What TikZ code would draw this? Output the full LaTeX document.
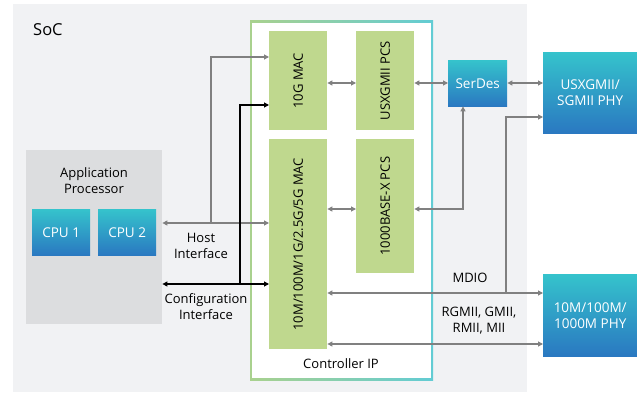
\documentclass[tikz,border=0pt]{standalone}
\usepackage{fontspec}
\setmainfont{Open Sans}
\usetikzlibrary{arrows.meta}
\definecolor{socbg}{HTML}{F1F2F4}
\definecolor{apbg}{HTML}{DCDDDF}
\definecolor{macgreen}{HTML}{BFD88E}
\definecolor{argray}{HTML}{808080}
\definecolor{bltop}{HTML}{35C3CC}
\definecolor{blbot}{HTML}{2A78C1}
\definecolor{ipgreen}{HTML}{A9D18E}
\definecolor{ipcyan}{HTML}{62CCD4}
\tikzset{
  greenbox/.style={fill=macgreen, draw=none, inner sep=0pt, anchor=north west},
  bluebox/.style={top color=bltop, bottom color=blbot, draw=none, inner sep=0pt, anchor=north west, text=white, align=center, font=\fontsize{13.5}{16}\selectfont},
  vlabel/.style={rotate=90, font=\fontsize{13}{15}\selectfont},
  lbl/.style={align=center, font=\fontsize{13}{16}\selectfont, inner sep=0pt},
  garrow/.style={draw=argray, line width=1.1pt, arrows={-Triangle[length=5pt,width=5pt]}},
  gboth/.style={draw=argray, line width=1.1pt, arrows={Triangle[length=5pt,width=5pt]-Triangle[length=5pt,width=5pt]}},
  barrow/.style={draw=black, line width=1.1pt, arrows={-Triangle[length=5pt,width=5pt]}},
  bboth/.style={draw=black, line width=1.1pt, arrows={Triangle[length=5pt,width=5pt]-Triangle[length=5pt,width=5pt]}},
}
\begin{document}
\begin{tikzpicture}[x=1pt,y=-1pt]
\useasboundingbox (0,0) rectangle (637,393);
% SoC background
\fill[socbg] (13,4) rectangle (527,392);
\node[anchor=west, font=\fontsize{16.5}{18}\selectfont, inner sep=0pt] (soc) at (33,30) {SoC};
% Controller IP frame
\shade[left color=ipgreen, right color=ipcyan] (250,21) rectangle (433,380);
\fill[white] (252,23) rectangle (431,378);
\node[lbl] (ctrl) at (341,364) {Controller IP};
% Application processor
\node[fill=apbg, inner sep=0pt, anchor=north west, minimum width=136pt, minimum height=174pt] (ap) at (26,150) {};
\node[lbl] (aplbl) at (94,181) {Application\\Processor};
\node[bluebox, minimum width=58pt, minimum height=46pt] (cpu1) at (32,209) {CPU 1};
\node[bluebox, minimum width=58pt, minimum height=46pt] (cpu2) at (98,209) {CPU 2};
% MACs and PCSs
\node[greenbox, minimum width=58pt, minimum height=99pt] (mac10) at (269,31) {};
\node[vlabel] at (mac10.center) {10G MAC};
\node[greenbox, minimum width=58pt, minimum height=210pt] (macl) at (269,139) {};
\node[vlabel] at (macl.center) {10M/100M/1G/2.5G/5G MAC};
\node[greenbox, minimum width=58pt, minimum height=99pt] (pcs1) at (356,31) {};
\node[vlabel] at (pcs1.center) {USXGMII PCS};
\node[greenbox, minimum width=58pt, minimum height=134pt] (pcs2) at (356,139) {};
\node[vlabel] at (pcs2.center) {1000BASE-X PCS};
% SerDes and PHYs
\node[bluebox, minimum width=59pt, minimum height=46pt] (serdes) at (448,60) {SerDes};
\node[bluebox, minimum width=94pt, minimum height=81pt] (phy1) at (543,52) {USXGMII/\\SGMII PHY};
\node[bluebox, minimum width=94pt, minimum height=82pt] (phy2) at (543,274) {10M/100M/\\1000M PHY};
% Host interface
\coordinate (hj) at (211,223);
\draw[gboth] (ap.east |- hj) -- (macl.west |- hj);
\draw[garrow] (hj) |- (mac10.west |- 0,57);
\node[lbl] (host) at (201,246) {Host\\Interface};
% Configuration interface
\coordinate (cj) at (240,284);
\draw[bboth] (ap.east |- cj) -- (macl.west |- cj);
\draw[barrow] (cj) |- (mac10.west |- 0,105);
\node[lbl] (conf) at (206,307) {Configuration\\Interface};
% MAC - PCS
\draw[gboth] (mac10.east |- 0,83) -- (pcs1.west |- 0,83);
\draw[gboth] (macl.east |- 0,209) -- (pcs2.west |- 0,209);
\draw[gboth] (pcs1.east |- 0,83) -- (serdes.west |- 0,83);
\draw[gboth] (serdes.east |- 0,83) -- (phy1.west |- 0,83);
\draw[gboth] (pcs2.east |- 0,209) -| (serdes.south -| 463,0);
% MDIO
\coordinate (mj) at (506,293);
\draw[gboth] (macl.east |- mj) -- (phy2.west |- mj);
\draw[garrow] (mj) |- (phy1.west |- 0,117);
\node[lbl] (mdio) at (470,278) {MDIO};
% RGMII
\draw[gboth] (macl.east |- 0,344) -- (phy2.west |- 0,344);
\node[lbl] (rgmii) at (479,321) {RGMII, GMII,\\RMII, MII};
\end{tikzpicture}
\end{document}
